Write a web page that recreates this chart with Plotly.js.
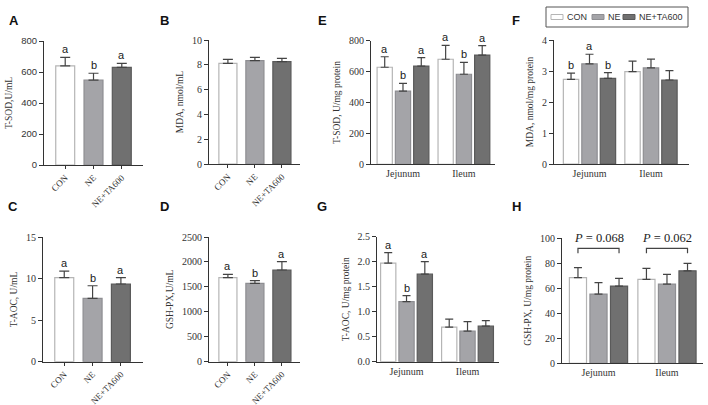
<!DOCTYPE html>
<html>
<head>
<meta charset="utf-8">
<script src="https://cdn.plot.ly/plotly-3.0.1.min.js"></script>
<style>html,body{margin:0;padding:0;background:#fff;}#chart{width:708px;height:405px;}</style>
</head>
<body>
<div id="chart"></div>
<script>
// ---------- data ----------
const groups = ['CON', 'NE', 'NE+TA600'];
const segments = ['Jejunum', 'Ileum'];

// serum panels (A-D): values per group
const serumSOD = [640, 547, 630];
const serumSODsd = [55, 45, 26];
const serumSODlet = ['a', 'b', 'a'];
const serumMDA = [8.12, 8.33, 8.25];
const serumMDAsd = [0.32, 0.27, 0.27];
const serumMDAlet = ['', '', ''];
const serumAOC = [10.13, 7.64, 9.37];
const serumAOCsd = [0.8, 1.52, 0.76];
const serumAOClet = ['a', 'b', 'a'];
const serumGSH = [1684, 1572, 1838];
const serumGSHsd = [68, 52, 167];
const serumGSHlet = ['a', 'b', 'a'];

// intestine panels (E-H): values per segment for each group
const intSOD = { CON: [628, 680], NE: [474, 583], 'NE+TA600': [636, 707] };
const intSODsd = { CON: [68, 90], NE: [50, 77], 'NE+TA600': [54, 61] };
const intSODlet = { CON: ['a', 'a'], NE: ['b', 'b'], 'NE+TA600': ['a', 'a'] };
const intMDA = { CON: [2.73, 2.98], NE: [3.23, 3.10], 'NE+TA600': [2.76, 2.71] };
const intMDAsd = { CON: [0.20, 0.34], NE: [0.31, 0.28], 'NE+TA600': [0.19, 0.30] };
const intMDAlet = { CON: ['b', ''], NE: ['a', ''], 'NE+TA600': ['b', ''] };
const intAOC = { CON: [1.97, 0.69], NE: [1.20, 0.61], 'NE+TA600': [1.75, 0.71] };
const intAOCsd = { CON: [0.21, 0.16], NE: [0.12, 0.19], 'NE+TA600': [0.25, 0.11] };
const intAOClet = { CON: ['a', ''], NE: ['b', ''], 'NE+TA600': ['a', ''] };
const intGSH = { CON: [68.5, 67.2], NE: [55.4, 63.4], 'NE+TA600': [61.8, 74.0] };
const intGSHsd = { CON: [8.0, 8.8], NE: [9.1, 7.8], 'NE+TA600': [6.2, 6.0] };
const intGSHlet = { CON: ['', ''], NE: ['', ''], 'NE+TA600': ['', ''] };
const pValues = ['P = 0.068', 'P = 0.062'];
const pBracketY = 92;

// ---------- style ----------
const W = 708, H = 405;
const fill = { CON: '#ffffff', NE: '#a4a4a8', 'NE+TA600': '#707070' };
const edge = { CON: '#b5b5b5', NE: '#8e8e92', 'NE+TA600': '#5a5a5a' };
const serif = 'Liberation Serif';
const sans = 'Liberation Sans';
const axisCol = '#333333';

function xd(a, b) { return [a / W, b / W]; }
function yd(top, bot) { return [1 - bot / H, 1 - top / H]; }

const panels = [
  { id: 'A', kind: 'serum', x: [44, 143], y: [41, 165], xr: [-0.75, 2.75], yr: [0, 800], dt: 200,
    title: 'T-SOD,U/mL', v: serumSOD, sd: serumSODsd, let: serumSODlet, tf: sans, lab: [14, 20] },
  { id: 'B', kind: 'serum', x: [209, 300], y: [40, 164], xr: [-0.7, 2.67], yr: [0, 10], dt: 2,
    title: 'MDA, nmol/mL', v: serumMDA, sd: serumMDAsd, let: serumMDAlet, tf: serif, lab: [164, 20] },
  { id: 'C', kind: 'serum', x: [43, 143], y: [237.3, 361.7], xr: [-0.75, 2.78], yr: [0, 15], dt: 5,
    title: 'T-AOC, U/mL', v: serumAOC, sd: serumAOCsd, let: serumAOClet, tf: serif, lab: [13, 207] },
  { id: 'D', kind: 'serum', x: [209, 300], y: [237, 361.7], xr: [-0.7, 2.67], yr: [0, 2500], dt: 500,
    title: 'GSH-PX,U/mL', v: serumGSH, sd: serumGSHsd, let: serumGSHlet, tf: serif, lab: [164, 207] },
  { id: 'E', kind: 'int', x: [371, 495], y: [40.7, 164.3], xr: [-0.525, 1.51], yr: [0, 800], dt: 200,
    title: 'T-SOD, U/mg protein', v: intSOD, sd: intSODsd, let: intSODlet, tf: serif, lab: [322, 20] },
  { id: 'F', kind: 'int', x: [554, 689], y: [40, 164], xr: [-0.577, 1.618], yr: [0, 4], dt: 1,
    title: 'MDA, nmol/mg protein', v: intMDA, sd: intMDAsd, let: intMDAlet, tf: serif, lab: [516, 20] },
  { id: 'G', kind: 'int', x: [377, 499], y: [236.7, 361.7], xr: [-0.484, 1.516], yr: [0, 2.5], dt: 0.5, fmt: '.1f',
    title: 'T-AOC, U/mg protein', v: intAOC, sd: intAOCsd, let: intAOClet, tf: serif, lab: [322, 207] },
  { id: 'H', kind: 'int', x: [562, 703], y: [238.3, 363.3], xr: [-0.533, 1.526], yr: [0, 100], dt: 20,
    title: 'GSH-PX, U/mg protein', v: intGSH, sd: intGSHsd, let: intGSHlet, tf: serif, lab: [516, 207], pvals: true }
];

const slot = 0.3, barW = 0.25;
const traces = [];
const annotations = [];
const shapes = [];
const layout = {
  width: W, height: H, margin: { l: 0, r: 0, t: 0, b: 0 },
  paper_bgcolor: '#ffffff', plot_bgcolor: 'rgba(0,0,0,0)',
  barmode: 'overlay', showlegend: false,
  font: { family: serif, color: '#333' }
};

panels.forEach((p, i) => {
  const n = i + 1;
  const xa = 'xaxis' + (n === 1 ? '' : n), ya = 'yaxis' + (n === 1 ? '' : n);
  const xr = 'x' + (n === 1 ? '' : n), yr = 'y' + (n === 1 ? '' : n);
  const serum = p.kind === 'serum';
  layout[xa] = {
    domain: xd(p.x[0], p.x[1]), range: p.xr, anchor: yr, type: 'category',
    showline: true, linecolor: axisCol, linewidth: 1, showgrid: false, zeroline: false,
    ticks: serum ? 'outside' : '', ticklen: 3, tickcolor: axisCol,
    tickangle: serum ? -45 : 0, tickfont: { family: serif, size: serum ? 9 : 10, color: '#333' },
    fixedrange: true
  };
  layout[ya] = {
    domain: yd(p.y[0], p.y[1]), range: p.yr, anchor: xr, dtick: p.dt, tick0: 0,
    tickformat: p.fmt || '', showline: true, linecolor: axisCol, linewidth: 1,
    showgrid: false, zeroline: false, ticks: 'outside', ticklen: 4, tickcolor: axisCol,
    tickfont: { family: p.tf, size: p.tf === sans ? 9.5 : 10, color: '#333' },
    title: { text: p.title, font: { family: serif, size: 9.5, color: '#333' }, standoff: 6 },
    fixedrange: true
  };
  annotations.push({ xref: 'paper', yref: 'paper', x: p.lab[0] / W, y: 1 - p.lab[1] / H,
    text: '<b>' + p.id + '</b>', showarrow: false, xanchor: 'center', yanchor: 'middle',
    font: { family: sans, size: 13, color: '#111' } });

  if (serum) {
    traces.push({
      type: 'bar', x: groups, y: p.v, xaxis: xr, yaxis: yr, width: 0.67,
      marker: { color: groups.map(g => fill[g]), line: { color: groups.map(g => edge[g]), width: 1.2 } },
      error_y: { type: 'data', symmetric: false, array: p.sd, arrayminus: p.v.map(() => 0),
        color: '#444', thickness: 1.2, width: 5 },
      hoverinfo: 'skip'
    });
    groups.forEach((g, k) => {
      if (p.let[k]) annotations.push({ xref: xr, yref: yr, x: k, y: p.v[k] + p.sd[k], text: p.let[k],
        showarrow: false, yanchor: 'bottom', yshift: 0, font: { family: sans, size: 11, color: '#1a1a1a' } });
    });
  } else {
    groups.forEach((g, k) => {
      const off = (k - 1) * slot;
      traces.push({
        type: 'bar', name: g, x: segments, y: p.v[g], xaxis: xr, yaxis: yr,
        width: barW, offset: off - barW / 2,
        marker: { color: fill[g], line: { color: edge[g], width: 1.2 } },
        error_y: { type: 'data', symmetric: false, array: p.sd[g], arrayminus: p.v[g].map(() => 0),
          color: '#444', thickness: 1.2, width: 4 },
        hoverinfo: 'skip'
      });
      segments.forEach((s, j) => {
        if (p.let[g][j]) annotations.push({ xref: xr, yref: yr, x: j + off, y: p.v[g][j] + p.sd[g][j],
          text: p.let[g][j], showarrow: false, yanchor: 'bottom', yshift: 0,
          font: { family: sans, size: 11, color: '#1a1a1a' } });
      });
    });
    if (p.pvals) {
      segments.forEach((s, j) => {
        const x0 = j - slot, x1 = j + slot, dy = 4;
        shapes.push({ type: 'path', xref: xr, yref: yr,
          path: `M ${x0} ${pBracketY - dy} L ${x0} ${pBracketY} L ${x1} ${pBracketY} L ${x1} ${pBracketY - dy}`,
          line: { color: '#444', width: 1.2 } });
        annotations.push({ xref: xr, yref: yr, x: j, y: pBracketY, yanchor: 'bottom', yshift: 1,
          text: pValues[j].replace('P', '<i>P</i>'), showarrow: false,
          font: { family: serif, size: 12.5, color: '#222' } });
      });
    }
  }
});

// legend box drawn in paper coordinates
const legBox = { x0: 546, x1: 688, y0: 7, y1: 27 };
shapes.push({ type: 'rect', xref: 'paper', yref: 'paper', x0: legBox.x0 / W, x1: legBox.x1 / W,
  y0: 1 - legBox.y1 / H, y1: 1 - legBox.y0 / H, line: { color: '#555', width: 1 }, fillcolor: 'rgba(0,0,0,0)' });
const legSwatch = [[551, 563], [592, 604], [623, 635]];
const legText = [566, 607, 638];
groups.forEach((g, k) => {
  shapes.push({ type: 'rect', xref: 'paper', yref: 'paper', x0: legSwatch[k][0] / W, x1: legSwatch[k][1] / W,
    y0: 1 - 19.5 / H, y1: 1 - 14.5 / H, fillcolor: fill[g], line: { color: edge[g], width: 1 } });
  annotations.push({ xref: 'paper', yref: 'paper', x: legText[k] / W, y: 1 - 17 / H, text: g,
    showarrow: false, xanchor: 'left', yanchor: 'middle', xshift: -1,
    font: { family: sans, size: 9, color: '#333' } });
});

layout.annotations = annotations;
layout.shapes = shapes;
Plotly.newPlot('chart', traces, layout, { staticPlot: true, displayModeBar: false });
</script>
</body>
</html>
